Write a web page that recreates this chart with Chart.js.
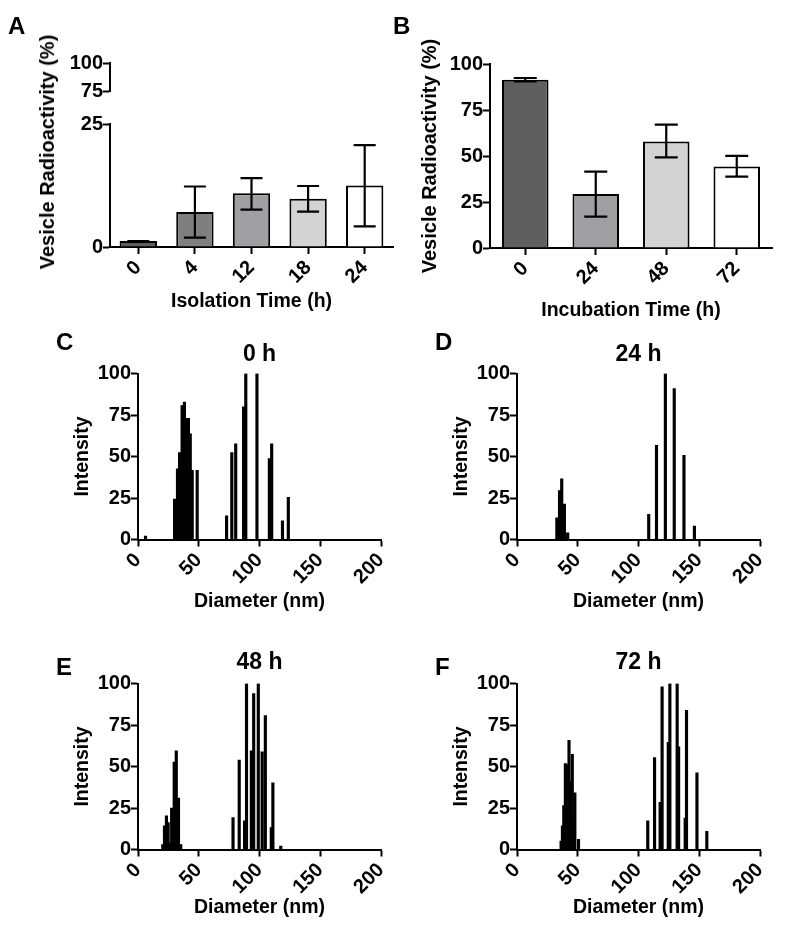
<!DOCTYPE html>
<html>
<head>
<meta charset="utf-8">
<script src="https://cdn.jsdelivr.net/npm/chart.js@4/dist/chart.umd.min.js"></script>
<style>
  body { margin: 0; background: #fff; }
  #wrap { position: relative; width: 800px; height: 929px; overflow: hidden; font-family: 'Liberation Sans', Arial, sans-serif; color: #000; }
  canvas { position: absolute; }
  .lbl { position: absolute; font-weight: bold; font-size: 24px; line-height: 24px; }
  .ytitle { position: absolute; font-weight: bold; font-size: 20px; line-height: 24px; white-space: nowrap;
            transform: translate(-50%, -50%) rotate(-90deg); }
</style>
</head>
<body>
<div id="wrap">
  <canvas id="chartA" width="400" height="330" style="left:0;top:0"></canvas>
  <canvas id="chartB" width="400" height="330" style="left:400px;top:0"></canvas>
  <canvas id="chartC" width="400" height="300" style="left:0;top:330px"></canvas>
  <canvas id="chartD" width="400" height="300" style="left:379px;top:330px"></canvas>
  <canvas id="chartE" width="400" height="299" style="left:0;top:630px"></canvas>
  <canvas id="chartF" width="400" height="299" style="left:379px;top:630px"></canvas>

  <div class="lbl" style="left:8px;top:14px">A</div>
  <div class="lbl" style="left:393px;top:14px">B</div>
  <div class="lbl" style="left:56px;top:330px">C</div>
  <div class="lbl" style="left:435px;top:330px">D</div>
  <div class="lbl" style="left:56px;top:655px">E</div>
  <div class="lbl" style="left:435px;top:655px">F</div>
  <div class="ytitle" style="left:47px;top:152px">Vesicle Radioactivity (%)</div>
</div>

<script>
// ---- panel A : isolation time
const isoTimes = ['0', '4', '12', '18', '24'];
const isoMean  = [1.2, 7.1, 10.9, 9.8, 12.5];
const isoHigh  = [1.2, 12.3, 14.0, 12.4, 20.7];
const isoLow   = [1.2, 1.9, 7.6, 7.2, 4.2];
const isoColors = ['#5f5f5f', '#7f7f7f', '#a0a0a3', '#d3d3d3', '#ffffff'];

// ---- panel B : incubation time
const incTimes = ['0', '24', '48', '72'];
const incMean  = [91.5, 29.4, 57.9, 44.3];
const incHigh  = [92.4, 41.5, 67.0, 50.1];
const incLow   = [90.6, 17.0, 49.2, 38.8];
const incColors = ['#5f5f5f', '#a0a0a3', '#d3d3d3', '#ffffff'];

// ---- panels C-F : size distributions (diameter nm / intensity)
const sizes0h = [6.2, 30.1, 32.5, 34.2, 36.3, 37.3, 38.2, 39.3, 40.3, 41.5, 43.0, 44.6, 48.7,
                 72.9, 77.2, 80.4, 86.9, 88.7, 97.9, 108.1, 110.0, 118.9, 123.7];
const inten0h = [2, 24.3, 42.6, 52.3, 80.7, 80.7, 82.8, 73, 73, 73, 63.7, 41.6, 41.6,
                 14.2, 52.3, 57.6, 79.9, 100, 100, 48.7, 57.6, 11.2, 25.4];

const sizes24h = [32.8, 35.0, 36.8, 39.0, 41.7, 108.4, 114.8, 122.1, 129.4, 137.4, 146.0];
const inten24h = [13, 29.4, 36.5, 21.3, 4, 15.2, 56.8, 100, 90.9, 50.7, 8.1];

const sizes48h = [20.4, 21.8, 23.4, 24.8, 26.1, 27.7, 29.8, 31.5, 33.3, 35.2,
                  78.2, 83.3, 87.7, 89.3, 93.3, 95.2, 99.0, 102.2, 104.8, 109.7, 111.0, 117.5];
const inten48h = [3, 14.2, 20.3, 16.2, 4, 25, 52.7, 59.4, 31.0, 3,
                  19.3, 53.8, 17.2, 100, 59.4, 93.9, 100, 58.8, 80.7, 13.2, 40.2, 2];

const sizes72h = [36.3, 37.4, 38.5, 39.8, 41.5, 42.8, 44.1, 45.5, 46.8, 47.6, 50.6,
                  107.6, 113.2, 117.8, 119.4, 124.5, 125.8, 131.8, 133.0, 138.4, 139.5, 148.1, 156.2];
const inten72h = [5, 14.2, 26.4, 51.7, 51.1, 65.7, 41, 57.4, 16.2, 34.1, 6.1,
                  17.2, 55.4, 28.4, 98, 64.5, 100, 100, 61.9, 18.9, 83.8, 46.2, 11];

const diamTicks = [0, 50, 100, 150, 200];

Chart.defaults.font.family = "'Liberation Sans', Arial, sans-serif";
Chart.defaults.font.weight = 'bold';
Chart.defaults.color = '#000';
Chart.defaults.animation = false;
Chart.defaults.responsive = false;
Chart.defaults.plugins.legend.display = false;
Chart.defaults.plugins.tooltip.enabled = false;

const tickFont = { size: 20, weight: 'bold' };
const titleFont = { size: 19.5, weight: 'bold' };

// error bars (mean +/- error), drawn on top of the bars
const errorBars = {
  id: 'errorBars',
  afterDatasetsDraw(chart, args, opts) {
    const meta = chart.getDatasetMeta(0);
    const yScale = chart.scales[meta.yAxisID];
    const ctx = chart.ctx;
    const w = opts.capWidth / 2;
    ctx.save();
    ctx.strokeStyle = '#000';
    ctx.lineWidth = 2.2;
    meta.data.forEach((bar, i) => {
      const yHi = yScale.getPixelForValue(opts.high[i]);
      const yLo = yScale.getPixelForValue(opts.low[i]);
      ctx.beginPath();
      ctx.moveTo(bar.x, yHi); ctx.lineTo(bar.x, yLo);
      ctx.moveTo(bar.x - w, yHi); ctx.lineTo(bar.x + w, yHi);
      ctx.moveTo(bar.x - w, yLo); ctx.lineTo(bar.x + w, yLo);
      ctx.stroke();
    });
    ctx.restore();
  }
};

const axisGrid = { drawOnChartArea: false, tickLength: 7, tickWidth: 2, tickColor: '#000', color: '#000' };
const axisBorder = { color: '#000', width: 2 };
const yTicks = { font: tickFont, stepSize: 25, padding: 0, autoSkip: false };
const xTicks = { font: tickFont, minRotation: 45, maxRotation: 45, padding: 2, autoSkip: false };

// A : broken y axis done with three stacked scales (0-25, gap, 75-100)
new Chart(document.getElementById('chartA'), {
  type: 'bar',
  data: {
    labels: isoTimes,
    datasets: [{
      data: isoMean, yAxisID: 'y',
      backgroundColor: isoColors, borderColor: '#000', borderWidth: 2,
      barPercentage: 0.66, categoryPercentage: 1
    }]
  },
  plugins: [errorBars],
  options: {
    layout: { padding: { left: 0, top: 63, right: 7, bottom: 0 } },
    plugins: { errorBars: { high: isoHigh, low: isoLow, capWidth: 22 } },
    scales: {
      x: {
        offset: true,
        grid: { ...axisGrid, offset: false },
        border: axisBorder,
        ticks: xTicks,
        title: { display: true, text: 'Isolation Time (h)', font: titleFont, padding: { top: 0, bottom: 16.6 } },
        afterFit: s => { s.height = 83; }
      },
      y: {
        position: 'left', stack: 'a', stackWeight: 123, min: 0, max: 25,
        grid: axisGrid, border: axisBorder, ticks: yTicks,
        afterFit: s => { s.width = 110; }
      },
      yGap: {
        position: 'left', stack: 'a', stackWeight: 33, min: 25, max: 75,
        grid: { display: false }, border: { display: false }, ticks: { display: false },
        afterFit: s => { s.width = 110; }
      },
      yTop: {
        position: 'left', stack: 'a', stackWeight: 28, min: 75, max: 100,
        grid: axisGrid, border: axisBorder, ticks: yTicks,
        afterFit: s => { s.width = 110; }
      }
    }
  }
});

// B
new Chart(document.getElementById('chartB'), {
  type: 'bar',
  data: {
    labels: incTimes,
    datasets: [{
      data: incMean,
      backgroundColor: incColors, borderColor: '#000', borderWidth: 2,
      barPercentage: 0.66, categoryPercentage: 1
    }]
  },
  plugins: [errorBars],
  options: {
    layout: { padding: { left: 14.6, top: 64, right: 28, bottom: 0 } },
    plugins: { errorBars: { high: incHigh, low: incLow, capWidth: 23 } },
    scales: {
      x: {
        offset: true,
        grid: { ...axisGrid, offset: false },
        border: axisBorder,
        ticks: xTicks,
        title: { display: true, text: 'Incubation Time (h)', font: titleFont, padding: { top: 0, bottom: 7.6 } },
        afterFit: s => { s.height = 82; }
      },
      y: {
        min: 0, max: 100,
        grid: axisGrid, border: axisBorder, ticks: yTicks,
        title: { display: true, text: 'Vesicle Radioactivity (%)', font: { size: 20, weight: 'bold' } },
        afterFit: s => { s.width = 75.4; }
      }
    }
  }
});

// C-F : size distribution histograms
function sizeChart(id, title, sizes, inten, geo) {
  return new Chart(document.getElementById(id), {
    type: 'bar',
    data: {
      datasets: [{
        data: sizes.map((s, i) => ({ x: s, y: inten[i] })),
        backgroundColor: '#000', borderWidth: 0, barThickness: 2.5
      }]
    },
    options: {
      layout: { padding: { left: geo.left, top: 0, right: geo.right, bottom: 0 } },
      plugins: {
        title: {
          display: true, text: title, fullSize: false,
          font: { size: 23, weight: 'bold' }, color: '#000',
          padding: { top: geo.titleTop, bottom: geo.titleBottom }
        }
      },
      scales: {
        x: {
          type: 'linear', offset: false, min: 0, max: 200,
          grid: { ...axisGrid, offset: false }, border: axisBorder,
          afterBuildTicks: s => { s.ticks = diamTicks.map(v => ({ value: v })); },
          ticks: xTicks,
          title: { display: true, text: 'Diameter (nm)', font: titleFont, padding: { top: 0, bottom: geo.xTitleBottom } },
          afterFit: s => { s.height = geo.xHeight; }
        },
        y: {
          min: 0, max: 100,
          grid: axisGrid, border: axisBorder, ticks: yTicks,
          title: { display: true, text: 'Intensity', font: titleFont },
          afterFit: s => { s.width = geo.yWidth; }
        }
      }
    }
  });
}

const topRow = { left: 66.6, yWidth: 71.4, right: 12.5, titleTop: 11.2, titleBottom: 4.7, xHeight: 90.5, xTitleBottom: 16.6 };
const botRow = { left: 66.6, yWidth: 71.4, right: 12.5, titleTop: 19.2, titleBottom: 6.7, xHeight: 79.5, xTitleBottom: 9.6 };

sizeChart('chartC', '0 h', sizes0h, inten0h, topRow);
sizeChart('chartD', '24 h', sizes24h, inten24h, topRow);
sizeChart('chartE', '48 h', sizes48h, inten48h, botRow);
sizeChart('chartF', '72 h', sizes72h, inten72h, botRow);
</script>
</body>
</html>
